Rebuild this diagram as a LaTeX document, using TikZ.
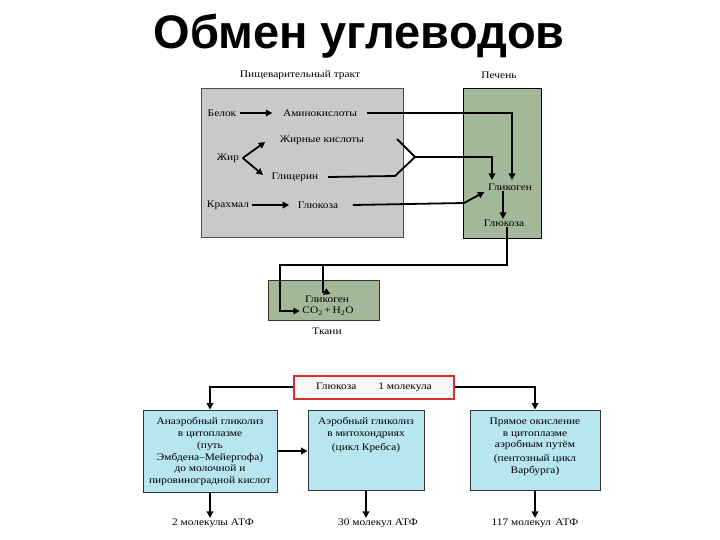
\documentclass[tikz,border=0pt]{standalone}
\usepackage{fontspec}
\setmainfont{Liberation Serif}[FakeStretch=1.14]
\newfontfamily\zagfont{Liberation Sans}
\usetikzlibrary{arrows.meta}

\definecolor{trakt}{RGB}{201,201,201}
\definecolor{pechen}{RGB}{163,184,152}
\definecolor{goluboj}{RGB}{184,230,240}
\definecolor{krasnyj}{RGB}{214,48,40}

\tikzset{
  lbl/.style={font=\fontsize{10}{11}\selectfont, inner sep=0.5pt},
  tekst/.style={font=\fontsize{10}{11.7}\selectfont, align=center, inner sep=0pt},
  svaz/.style={line width=1.8pt},
  strel/.style={line width=1.8pt, -{Triangle[length=6.5pt,width=6.5pt]}},
  blok/.style={draw=black!80, line width=0.8pt, fill=goluboj, inner sep=0pt}
}

\begin{document}
\begin{tikzpicture}[x=1pt, y=-1pt]
    \useasboundingbox (0,0) rectangle (720,540);
    %zagolovok
    \node[font=\zagfont\bfseries\fontsize{47}{47}\selectfont] (zagolovok) at (359,36) {Обмен углеводов};

    %pishchevaritelnyj trakt, pechen, tkani
\fill[trakt, draw=black!70] (201,88) rectangle (403,237);
\fill[pechen, draw=black] (463,88) rectangle (541,238);
\fill[pechen, draw=black!80] (268,280) rectangle (379,320);

            \node[lbl] (trakt-n) at (300,75) {Пищеварительный тракт};
            \node[lbl] (pechen-n) at (499,75) {Печень};
            \node[lbl] (belok) at (222,113) {Белок};
            \node[lbl] (amino) at (320,113) {Аминокислоты};
            \node[lbl] (zhk) at (322,140) {Жирные кислоты};
            \node[lbl] (zhir) at (228,158) {Жир};
            \node[lbl] (glicerin) at (295,177) {Глицерин};
            \node[lbl] (krahmal) at (228,205) {Крахмал};
            \node[lbl] (gluk1) at (318,205) {Глюкоза};
            \node[lbl] (glikogen1) at (510,187) {Гликоген};
            \node[lbl] (gluk2) at (504,223) {Глюкоза};
            \node[lbl] (glikogen2) at (327,299) {Гликоген};
            \node[lbl] (co2) at (328,311) {CO\textsubscript{2}\,+\,H\textsubscript{2}O};
            \node[lbl] (tkani) at (327,331) {Ткани};

    \coordinate (zhir-v) at ([xshift=3pt]zhir.east);
    \coordinate (vilka) at (415,157);
    \coordinate (zhk-k) at (397,139);
    \coordinate (gl-k) at (395,176);
    \coordinate (gluk-k) at (464,203);
    \coordinate (razv) at (323,265);

            \draw[strel] ([xshift=3pt]belok.east) -- ([xshift=-10pt]amino.west);
            \draw[strel] ([xshift=2pt]krahmal.east) -- ([xshift=-8pt]gluk1.west);
            \draw[strel] (zhir-v) -- ([xshift=-14pt,yshift=-2pt]zhk.west);
            \draw[strel] (zhir-v) -- ([xshift=-8pt,yshift=2pt]glicerin.west);
            \draw[strel] ([xshift=9pt]amino.east) -| ([xshift=2pt,yshift=3pt]glikogen1.north);
            \draw[svaz] (zhk-k) -- (vilka);
            \draw[svaz] ([xshift=9pt]glicerin.east) -- (gl-k) -- (vilka);
            \draw[strel] (vilka) -| ([xshift=-18pt,yshift=3pt]glikogen1.north);
            \draw[strel] ([xshift=14pt]gluk1.east) -- (gluk-k) -- ([xshift=-3pt,yshift=-1pt]glikogen1.south west);
            \draw[strel] ([xshift=-7pt]glikogen1.south) -- ([xshift=-1pt]gluk2.north);
            \draw[svaz] ([xshift=3pt]gluk2.south) |- (razv);
            \draw[strel] (razv) |- ([yshift=3pt]glikogen2.north) -- ([xshift=-4pt]glikogen2.north);
            \draw[strel] (razv) -- (280,265) |- ([xshift=-2pt]co2.west);

    %glukoza: tri puti
    \node[draw=krasnyj, line width=2pt, fill=black!3, minimum width=160pt, minimum height=23pt, inner sep=0pt, font=\fontsize{10}{11}\selectfont] (glukoza) at (374,387) {Глюкоза\hspace{2.2em}1 молекула};

    \node[blok, minimum width=134pt, minimum height=82pt] (anaerob) at (210,451) {};
    \node[blok, minimum width=116pt, minimum height=80pt] (aerob) at (366,450) {};
    \node[blok, minimum width=130pt, minimum height=80pt] (pentoz) at (535,450) {};
    \node[tekst, anchor=north] (anaerob-t) at ([yshift=-8pt]anaerob.north) {Анаэробный гликолиз\\в цитоплазме\\(путь\\Эмбдена--Мейергофа)\\до молочной и\\пировиноградной кислот};
    \node[tekst, anchor=north] (aerob-t) at ([yshift=-8pt]aerob.north) {Аэробный гликолиз\\в митохондриях\\[2pt](цикл Кребса)};
    \node[tekst, anchor=north] (pentoz-t) at ([yshift=-8pt]pentoz.north) {Прямое окисление\\в цитоплазме\\аэробным путём\\[2pt](пентозный цикл\\Варбурга)};

            \node[lbl] (atf1) at (213,523) {2 молекулы АТФ};
            \node[lbl] (atf2) at (378,523) {30 молекул АТФ};
            \node[lbl] (atf3) at (535,523) {117 молекул\, АТФ};

            \draw[strel] (glukoza.west) -| (anaerob.north);
            \draw[strel] (glukoza.east) -| (pentoz.north);
            \draw[strel] (anaerob.east) -- (anaerob.east -| aerob.west);
            \draw[strel] (anaerob.south) -- (anaerob.south |- atf1.north);
            \draw[strel] (aerob.south) -- (aerob.south |- atf2.north);
            \draw[strel] (pentoz.south) -- (pentoz.south |- atf3.north);
  \end{tikzpicture}
\end{document}
